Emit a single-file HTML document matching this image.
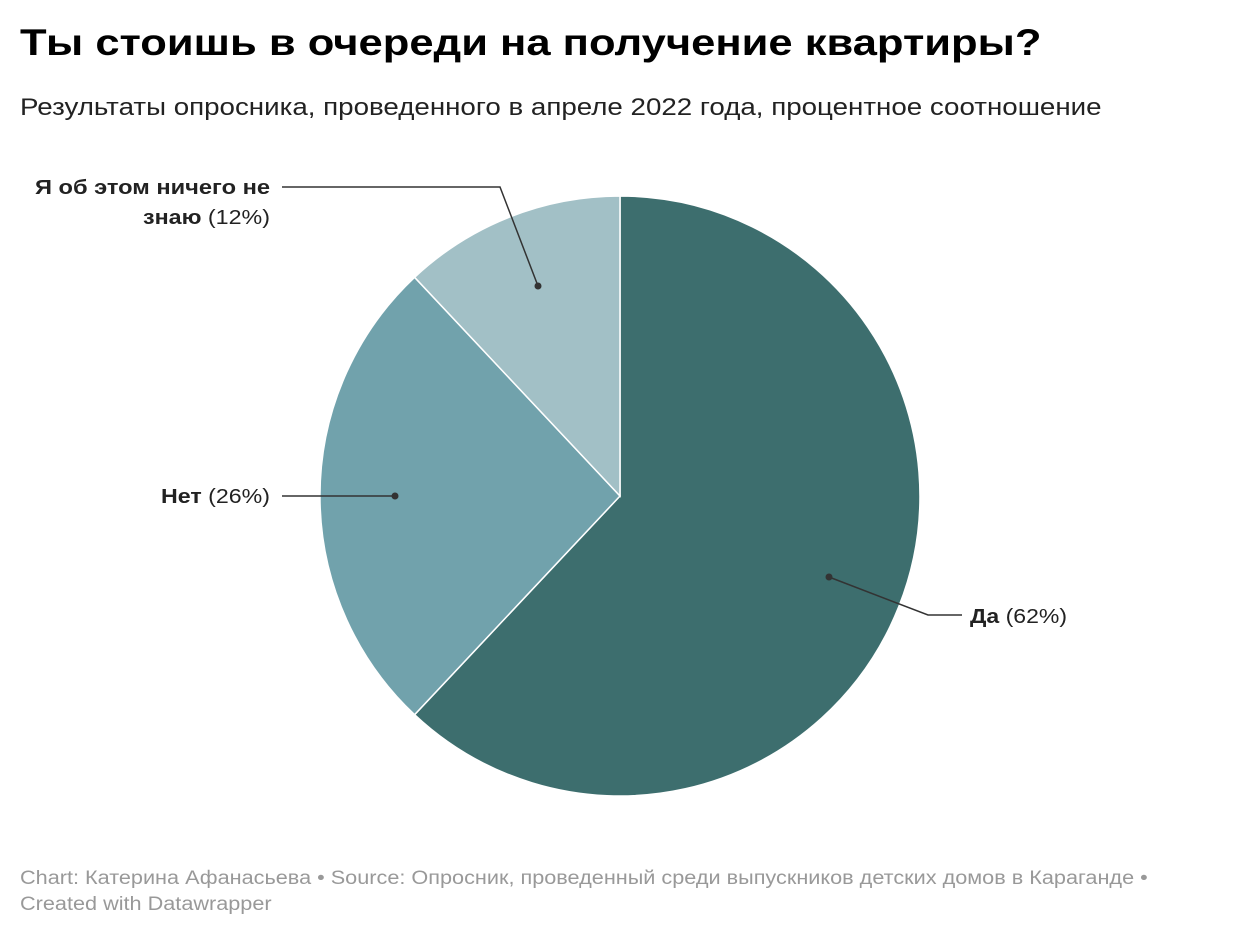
<!DOCTYPE html>
<html><head><meta charset="utf-8"><style>
body{margin:0;background:#fff;font-family:"Liberation Sans",Arial,sans-serif;}
.wrap{position:relative;width:1240px;height:938px;overflow:hidden}
h1{position:absolute;left:20px;top:22px;margin:0;font-size:37px;font-weight:bold;color:#000;white-space:nowrap;transform:scaleX(1.177);transform-origin:0 0}
.sub{position:absolute;left:20px;top:94px;font-size:24px;color:#222;white-space:nowrap;transform:scaleX(1.155);transform-origin:0 0}
.foot{position:absolute;left:20px;top:866px;font-size:19px;color:#999;line-height:26px;white-space:nowrap;transform:scaleX(1.14);transform-origin:0 0}
svg text{font-family:"Liberation Sans",Arial,sans-serif;font-size:20px;fill:#222}
</style></head><body><div class="wrap">
<h1>Ты стоишь в очереди на получение квартиры?</h1>
<div class="sub">Результаты опросника, проведенного в апреле 2022 года, процентное соотношение</div>
<svg width="1240" height="938" style="position:absolute;left:0;top:0">
<path d="M620,496 L620,196 A300,300 0 1 1 414.6,714.7 Z" fill="#3d6e6e" stroke="#fff" stroke-width="1.5"/>
<path d="M620,496 L414.6,714.7 A300,300 0 0 1 414.6,277.3 Z" fill="#71a2ac" stroke="#fff" stroke-width="1.5"/>
<path d="M620,496 L414.6,277.3 A300,300 0 0 1 620,196 Z" fill="#a2c0c6" stroke="#fff" stroke-width="1.5"/>
<g stroke="#333" stroke-width="1.5" fill="none">
<polyline points="829,577 928,615 962,615"/>
<polyline points="395,496 282,496"/>
<polyline points="538,286 500,187 282,187"/>
</g>
<g fill="#333"><circle cx="829" cy="577" r="3.5"/><circle cx="395" cy="496" r="3.5"/><circle cx="538" cy="286" r="3.5"/></g>
<text x="970" y="623" textLength="97" lengthAdjust="spacingAndGlyphs"><tspan font-weight="bold">Да</tspan> (62%)</text>
<text x="161" y="503" textLength="109" lengthAdjust="spacingAndGlyphs"><tspan font-weight="bold">Нет</tspan> (26%)</text>
<text x="35" y="194" font-weight="bold" textLength="235" lengthAdjust="spacingAndGlyphs">Я об этом ничего не</text>
<text x="143" y="224" textLength="127" lengthAdjust="spacingAndGlyphs"><tspan font-weight="bold">знаю</tspan> (12%)</text>
</svg>
<div class="foot">Chart: Катерина Афанасьева • Source: Опросник, проведенный среди выпускников детских домов в Караганде •<br>Created with Datawrapper</div>
</div></body></html>
